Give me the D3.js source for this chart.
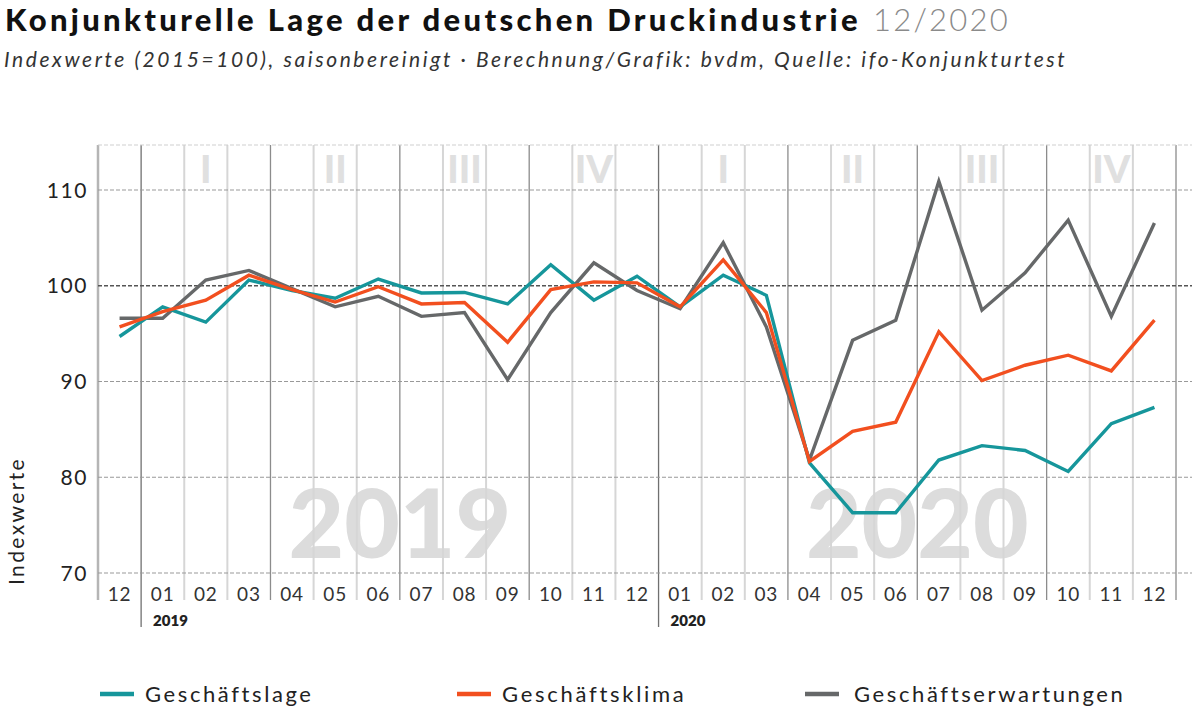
<!DOCTYPE html>
<html>
<head>
<meta charset="utf-8">
<script src="https://cdn.jsdelivr.net/npm/d3@7/dist/d3.min.js"></script>
<style>
  html, body { margin: 0; padding: 0; background: #fff; }
  svg { display: block; font-family: Lato, "Open Sans", sans-serif; }
</style>
</head>
<body>
<svg id="chart" width="1200" height="712"></svg>
<script>
// ---------- data ----------
const categories = ["2018-12","2019-01","2019-02","2019-03","2019-04","2019-05","2019-06","2019-07","2019-08","2019-09","2019-10","2019-11","2019-12",
  "2020-01","2020-02","2020-03","2020-04","2020-05","2020-06","2020-07","2020-08","2020-09","2020-10","2020-11","2020-12"];
const tickLabels = ["12","01","02","03","04","05","06","07","08","09","10","11","12",
  "01","02","03","04","05","06","07","08","09","10","11","12"];
const geschaeftslage = [94.7, 97.8, 96.2, 100.6, 99.5, 98.7, 100.7, 99.25, 99.3, 98.1, 102.2, 98.5, 101.0,
  97.8, 101.1, 99.0, 81.5, 76.3, 76.3, 81.8, 83.3, 82.8, 80.6, 85.6, 87.3];
const geschaeftsklima = [95.7, 97.3, 98.5, 101.1, 99.6, 98.3, 99.9, 98.1, 98.25, 94.1, 99.6, 100.4, 100.3,
  97.8, 102.7, 97.2, 81.65, 84.8, 85.75, 95.2, 90.1, 91.7, 92.75, 91.1, 96.4];
const geschaeftserwartungen = [96.6, 96.6, 100.6, 101.6, 99.7, 97.8, 98.9, 96.8, 97.2, 90.2, 97.2, 102.4, 99.5,
  97.6, 104.5, 95.7, 81.8, 94.3, 96.4, 110.9, 97.45, 101.35, 106.85, 96.8, 106.55];
const yTicks = [70, 80, 90, 100, 110];
const yearLabels = [{year: "2019", start: "2019-01", mid: "2019-07"}, {year: "2020", start: "2020-01", mid: "2020-07"}];
const quarterLabels = [
  {q: "I", at: "2019-02"}, {q: "II", at: "2019-05"}, {q: "III", at: "2019-08"}, {q: "IV", at: "2019-11"},
  {q: "I", at: "2020-02"}, {q: "II", at: "2020-05"}, {q: "III", at: "2020-08"}, {q: "IV", at: "2020-11"}
];
const seriesNames = ["Geschäftslage", "Geschäftsklima", "Geschäftserwartungen"];
const colors = {"Geschäftslage": "#16969b", "Geschäftsklima": "#f24f1f", "Geschäftserwartungen": "#666869"};

const series = [
  {name: seriesNames[0], values: geschaeftslage},
  {name: seriesNames[1], values: geschaeftsklima},
  {name: seriesNames[2], values: geschaeftserwartungen}
];

// ---------- helpers ----------
// spread letters so a text element spans the given width (reference font is wider than Lato)
function fitWidth(sel, target) {
  sel.each(function() {
    const node = this;
    const n = node.textContent.length;
    const w = node.getComputedTextLength();
    const ls = (target - w) / n;
    d3.select(node).attr("letter-spacing", ls.toFixed(2));
  });
}

// ---------- layout ----------
const svg = d3.select("#chart");
const plotLeft = 98, plotRight = 1176, plotTop = 145, plotBottom = 573, gridRight = 1192;

const x = d3.scaleBand().domain(categories).range([plotLeft, plotRight]).padding(0);
const y = d3.scaleLinear().domain([70, 114.7]).range([plotBottom, plotTop]);
const bw = x.bandwidth();
const cx = c => x(c) + bw / 2;

// title
svg.append("text").attr("x", 5).attr("y", 31)
  .style("font-size", "31px").style("font-weight", 900).style("fill", "#111")
  .text("Konjunkturelle Lage der deutschen Druckindustrie")
  .call(fitWidth, 856);
svg.append("text").attr("x", 873).attr("y", 31)
  .style("font-size", "31px").style("font-weight", 300).style("fill", "#8a8a8a")
  .text("12/2020")
  .call(fitWidth, 137);

svg.append("text").attr("x", 4).attr("y", 67)
  .style("font-size", "21px").style("font-style", "italic").style("fill", "#333")
  .text("Indexwerte (2015=100), saisonbereinigt  ·  Berechnung/Grafik: bvdm, Quelle: ifo-Konjunkturtest")
  .call(fitWidth, 1068);

// watermark years
const g = svg.append("g");
g.selectAll("text.wm").data(yearLabels).join("text")
  .attr("class", "wm")
  .attr("x", d => x(d.mid)).attr("y", 558)
  .attr("text-anchor", "middle")
  .style("font-size", "96px").style("font-weight", 900).style("fill", "#dcdcdc")
  .text(d => d.year);

// quarter labels
g.selectAll("text.q").data(quarterLabels).join("text")
  .attr("class", "q")
  .attr("x", d => cx(d.at)).attr("y", 183)
  .attr("text-anchor", "middle")
  .style("font-size", "38px").style("font-weight", 900).style("fill", "#e0e0e0")
  .text(d => d.q);

// vertical grid lines (band boundaries)
const boundaries = d3.range(categories.length + 1).map(k => ({
  k, x: plotLeft + k * bw,
  cat: categories[k]
}));
g.selectAll("line.v").data(boundaries).join("line")
  .attr("class", "v")
  .attr("x1", d => d.x).attr("x2", d => d.x)
  .attr("y1", plotTop)
  .attr("y2", d => (d.cat && d.cat.endsWith("-01")) ? 627 : 600)
  .attr("stroke", d => {
    if (d.cat && d.cat.endsWith("-01")) return "#707070";
    if (d.k === 0) return "#b5b5b5";
    if ((d.k - 1) % 3 === 0) return "#8c8c8c";
    return "#d6d6d6";
  })
  .attr("stroke-width", d => {
    if (d.k === 0) return 2.5;
    if ((d.k - 1) % 3 === 0) return 1.3;
    return 2;
  });

// horizontal grid lines
const hLines = [...yTicks, 114.7];
g.selectAll("line.h").data(hLines).join("line")
  .attr("class", "h")
  .attr("x1", plotLeft).attr("x2", gridRight)
  .attr("y1", d => y(d)).attr("y2", d => y(d))
  .attr("stroke", d => d === 100 ? "#555" : (d > 110 ? "#cfcfcf" : "#999"))
  .attr("stroke-width", d => d === 100 ? 1.4 : 1.1)
  .attr("stroke-dasharray", "4,2");

// y tick labels
svg.selectAll("text.yt").data(yTicks).join("text")
  .attr("class", "yt")
  .attr("x", 88).attr("y", d => y(d) + 7.5)
  .attr("text-anchor", "end")
  .attr("letter-spacing", 1.6)
  .style("font-size", "21px").style("fill", "#222")
  .text(d => d);

// y axis title
svg.append("text")
  .attr("transform", "translate(24,585) rotate(-90)")
  .style("font-size", "21px").style("fill", "#222")
  .text("Indexwerte")
  .call(fitWidth, 128);

// x tick labels
svg.selectAll("text.xt").data(categories).join("text")
  .attr("class", "xt")
  .attr("x", d => cx(d)).attr("y", 601)
  .attr("text-anchor", "middle")
  .attr("letter-spacing", 0.8)
  .style("font-size", "19px").style("fill", "#333")
  .text((d, i) => tickLabels[i]);

// year labels under axis
svg.selectAll("text.yl").data(yearLabels).join("text")
  .attr("class", "yl")
  .attr("x", d => x(d.start) + 12).attr("y", 626)
  .style("font-size", "15px").style("font-weight", 800).style("fill", "#222")
  .text(d => d.year);

// lines
const line = d3.line().x((v, i) => cx(categories[i])).y(v => y(v));
const drawOrder = [series[2], series[0], series[1]];
svg.selectAll("path.series").data(drawOrder).join("path")
  .attr("class", "series")
  .attr("d", d => line(d.values))
  .attr("fill", "none")
  .attr("stroke", d => colors[d.name])
  .attr("stroke-width", 3.4)
  .attr("stroke-linejoin", "miter");

// legend
const legendX = [100, 457, 805];
const legendW = [168, 184, 271];
const lg = svg.selectAll("g.legend").data(series).join("g")
  .attr("class", "legend")
  .attr("transform", (d, i) => `translate(${legendX[i]},694)`);
lg.append("line").attr("x1", 0).attr("x2", 34).attr("y1", 0).attr("y2", 0)
  .attr("stroke", d => colors[d.name]).attr("stroke-width", 4.5);
lg.append("text").attr("x", (d, i) => i === 2 ? 49 : 45).attr("y", 8)
  .style("font-size", "22px").style("fill", "#222")
  .text(d => d.name)
  .each(function(d, i) { d3.select(this).call(fitWidth, legendW[i]); });
</script>
</body>
</html>
